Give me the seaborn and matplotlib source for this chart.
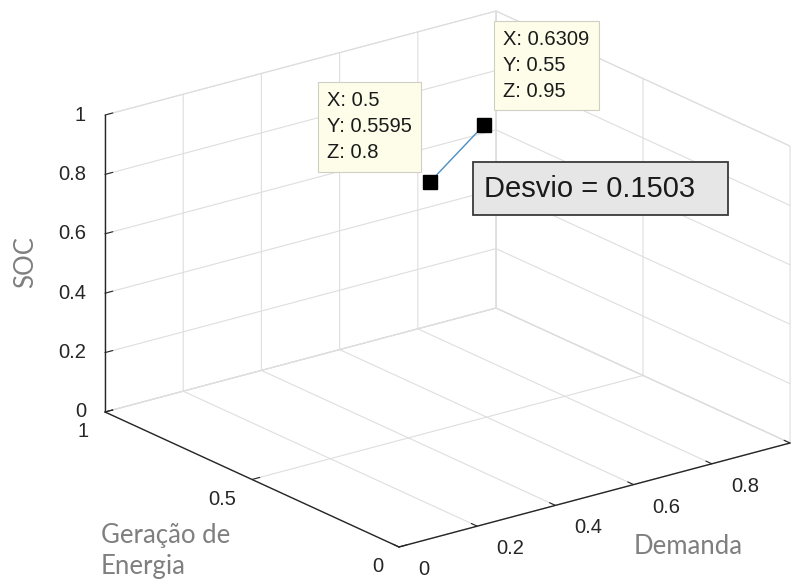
import matplotlib
matplotlib.use("Agg")
import numpy as np
import matplotlib.pyplot as plt
import seaborn as sns
from matplotlib.patches import Rectangle
from mpl_toolkits.mplot3d import proj3d

# --- data -----------------------------------------------------------------
demanda = [0.5, 0.6309]        # X
geracao = [0.5595, 0.55]       # Y
soc = [0.8, 0.95]              # Z
desvio = 0.1503

x_ticks = [0, 0.2, 0.4, 0.6, 0.8, 1]
x_labels = ["0", "0.2", "0.4", "0.6", "0.8", "1"]
y_ticks = [0, 0.5, 1]
y_labels = ["0", "0.5", "1"]
z_ticks = [0, 0.2, 0.4, 0.6, 0.8, 1]
z_labels = ["0", "0.2", "0.4", "0.6", "0.8", "1"]

# --- style ----------------------------------------------------------------
sns.set_style("white")
plt.rcParams["font.family"] = ["Liberation Sans", "DejaVu Sans"]
plt.rcParams["grid.color"] = "#dedede"
plt.rcParams["grid.linewidth"] = 0.8
plt.rcParams["axes3d.grid"] = True

W, H = 809, 580
PT = 72 / 100  # points per pixel at 100 dpi
fig = plt.figure(figsize=(W / 100, H / 100), dpi=100)
fig.patch.set_facecolor("white")

S0 = 500
ax = fig.add_axes([100 / W, 40 / H, S0 / W, S0 / H], projection="3d")
ax.set_proj_type("ortho")
ax.view_init(elev=20.45, azim=-127.27)
ax.set_box_aspect((1, 0.988, 0.645))
ax.set_xlim(0, 1)
ax.set_ylim(0, 1)
ax.set_zlim(0, 1)

# tick positions drive the grid; the labels are written next to each tick below
ax.set_xticks(x_ticks, [""] * len(x_ticks))
ax.set_yticks(y_ticks, [""] * len(y_ticks))
ax.set_zticks(z_ticks, [""] * len(z_ticks))
ax.tick_params(colors="#262626")

for axis in (ax.xaxis, ax.yaxis, ax.zaxis):
    axis.set_pane_color((1, 1, 1, 1))
    axis.pane.set_edgecolor("#dedede")
    axis.pane.set_linewidth(0.8)
    axis.line.set_color("#262626")
    axis.line.set_linewidth(1.0)
    axis._axinfo["tick"]["inward_factor"] = 0.0
    axis._axinfo["tick"]["outward_factor"] = 0.25
    axis._axinfo["grid"]["color"] = "#dedede"
    axis._axinfo["grid"]["linewidth"] = 0.8

# trajectory between the two states
ax.plot(demanda, geracao, soc, color="#4a8fc0", lw=1.0, zorder=2)
ax.plot(demanda, geracao, soc, ls="none", marker="s", ms=9.5,
        color="black", zorder=3)

# --- place the projected box inside the figure ---------------------------
anchors = [(0, 0, 0), (1, 0, 0), (0, 1, 0), (0, 1, 1)]
targets = np.array([(399, 547), (790, 443), (105, 412), (105, 115)], float)
targets[:, 1] = H - targets[:, 1]


def to_pixels(pts):
    M = ax.get_proj()
    out = []
    for p in pts:
        x2, y2, _ = proj3d.proj_transform(p[0], p[1], p[2], M)
        out.append(ax.transData.transform((x2, y2)))
    return np.array(out)


for _ in range(2):
    fig.canvas.draw()
    pos = ax.get_position()
    L0, B0, Sz = pos.x0 * W, pos.y0 * H, pos.width * W
    g = (to_pixels(anchors) - np.array([L0, B0])) / Sz
    A, b = [], []
    for (gx, gy), (tx, ty) in zip(g, targets):
        A.append([1, 0, gx]); b.append(tx)
        A.append([0, 1, gy]); b.append(ty)
    L, B, S = np.linalg.lstsq(np.array(A), np.array(b), rcond=None)[0]
    ax.set_position([L / W, B / H, S / W, S / H])

fig.canvas.draw()
M = ax.get_proj()


def proj2d(x, y, z):
    x2, y2, _ = proj3d.proj_transform(x, y, z, M)
    return (x2, y2)


# --- tick labels ----------------------------------------------------------
tick_txt = dict(fontsize=14.5, color="#262626", xycoords="data",
                textcoords="offset points", annotation_clip=False)
for t, s in zip(x_ticks, x_labels):
    ax.annotate(s, xy=proj2d(t, 0, 0), xytext=(19 * PT, -22.5 * PT),
                ha="left", va="center", **tick_txt)
for t, s in zip(y_ticks, y_labels):
    ax.annotate(s, xy=proj2d(0, t, 0), xytext=(-16 * PT, -20 * PT),
                ha="right", va="center", **tick_txt)
for t, s in zip(z_ticks, z_labels):
    ax.annotate(s, xy=proj2d(0, 1, t), xytext=(-19 * PT, 0),
                ha="right", va="center", **tick_txt)

# --- data tips -------------------------------------------------------------
tip_style = dict(boxstyle="square,pad=0.45", fc="#fdfde9", ec="#cfcfc4", lw=0.8)
offsets = [((-13, 14), "right"), ((14, 17), "left")]
for xi, yi, zi, (off, ha) in zip(demanda, geracao, soc, offsets):
    ax.annotate(f"X: {xi:g}\nY: {yi:g}\nZ: {zi:g}", xy=proj2d(xi, yi, zi),
                xycoords="data", xytext=off, textcoords="offset points",
                ha=ha, va="bottom", multialignment="left", fontsize=14.5,
                color="#1a1a1a", linespacing=1.48, bbox=tip_style,
                annotation_clip=False, zorder=10)

# --- deviation text box ----------------------------------------------------
fig.patches.append(Rectangle((473 / W, 1 - 215 / H), 255 / W, 53 / H,
                             transform=fig.transFigure, facecolor="#e6e6e6",
                             edgecolor="#3a3a3a", lw=1.3, zorder=5))
fig.text(484 / W, 1 - 189 / H, f"Desvio = {desvio:.4f}", ha="left",
         va="center", fontsize=21, color="#1a1a1a", zorder=6)

# --- axis titles -----------------------------------------------------------
lab = dict(family=["Lato", "DejaVu Sans"], fontsize=18.5, color="#7f7f7f")
fig.text(26 / W, 1 - 262 / H, "SOC", rotation=90, ha="center", va="center", **lab)
fig.text(688 / W, 1 - 546 / H, "Demanda", ha="center", va="center", **lab)
fig.text(101 / W, 1 - 523 / H, "Geração de\nEnergia", ha="left", va="top",
         linespacing=1.3, **lab)

fig.savefig("out.png", dpi=100)
